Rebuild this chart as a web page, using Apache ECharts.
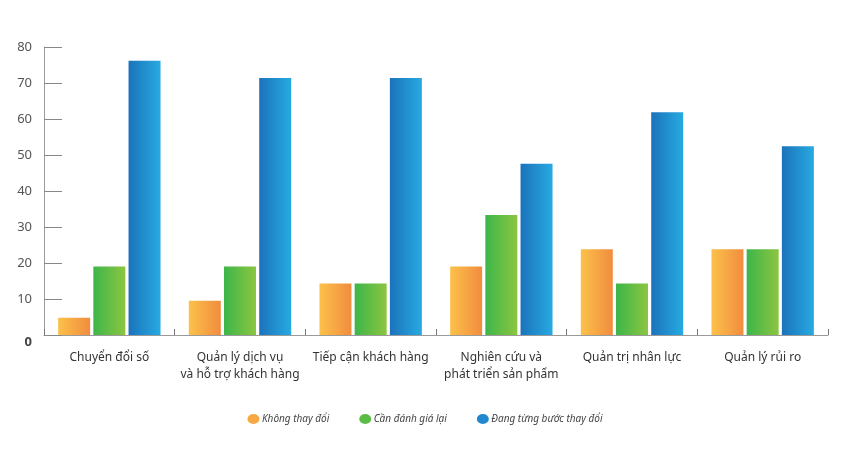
<!DOCTYPE html>
<html><head><meta charset="utf-8">
<script src="https://cdn.jsdelivr.net/npm/echarts@6/dist/echarts.min.js"></script>
<style>html,body{margin:0;padding:0;background:#fff}#c{width:850px;height:450px}</style>
</head><body><div id="c"></div>
<script>
const categories = ['Chuyển đổi số', 'Quản lý dịch vụ\nvà hỗ trợ khách hàng', 'Tiếp cận khách hàng', 'Nghiên cứu và\nphát triển sản phẩm', 'Quản trị nhân lực', 'Quản lý rủi ro'];
const seriesNames = ['Không thay đổi', 'Cần đánh giá lại', 'Đang từng bước thay đổi'];
const khongThayDoi = [4.8, 9.5, 14.3, 19.0, 23.8, 23.8];
const canDanhGiaLai = [19.0, 19.0, 14.3, 33.3, 14.3, 23.8];
const dangThayDoi = [76.2, 71.4, 71.4, 47.6, 61.9, 52.4];
const yTicks = [0, 10, 20, 30, 40, 50, 60, 70, 80];

const FONT = 'Noto Sans';
function grad(a, b) {
  return {type: 'linear', x: 0, y: 0, x2: 1, y2: 0, colorStops: [{offset: 0, color: a}, {offset: 1, color: b}]};
}
const grads = [grad('#fcc14a', '#f18c3f'), grad('#3cb64a', '#8cc540'), grad('#1b73bb', '#27aae1')];
const solids = ['#f6a844', '#5cbd46', '#2188cf'];
const ellipse = 'path://M0,5 A6,5 0 1,1 12,5 A6,5 0 1,1 0,5 Z';
const values = [khongThayDoi, canDanhGiaLai, dangThayDoi];

const chart = echarts.init(document.getElementById('c'), null, {renderer: 'canvas'});
chart.setOption({
  animation: false,
  backgroundColor: '#fff',
  grid: {left: 44, right: 22, top: 47, bottom: 115, containLabel: false},
  legend: {
    bottom: 21, left: 'center', itemGap: 30, itemWidth: 13, itemHeight: 10,
    textStyle: {fontFamily: FONT, fontStyle: 'italic', fontSize: 10, color: '#444', padding: [0, 0, 0, -3]},
    data: seriesNames.map((n, i) => ({name: n, icon: ellipse, itemStyle: {color: solids[i]}}))
  },
  xAxis: {
    type: 'category', data: categories,
    axisLine: {lineStyle: {color: '#9a9a9a', width: 1}},
    axisTick: {show: true, inside: true, length: 6, lineStyle: {color: '#777'}},
    axisLabel: {fontFamily: FONT, fontSize: 12, color: '#333', margin: 14, lineHeight: 17, interval: 0}
  },
  yAxis: {
    type: 'value', min: 0, max: 80, interval: 10,
    splitLine: {show: false},
    axisLine: {show: true, lineStyle: {color: '#9a9a9a', width: 1}},
    axisTick: {show: true, inside: true, length: 18, lineStyle: {color: '#888'}},
    axisLabel: {
      fontFamily: FONT, fontSize: 13, color: '#555', margin: 12,
      formatter: v => yTicks.indexOf(v) === 0 ? '{z|' + v + '}' : String(v),
      rich: {z: {fontFamily: FONT, fontSize: 13, fontWeight: 'bold', color: '#444', padding: [14, 0, 0, 0]}}
    }
  },
  series: seriesNames.map((n, i) => ({
    name: n, type: 'bar', data: values[i], barWidth: 32, barGap: '10%',
    itemStyle: {color: grads[i]}
  }))
});
</script></body></html>
